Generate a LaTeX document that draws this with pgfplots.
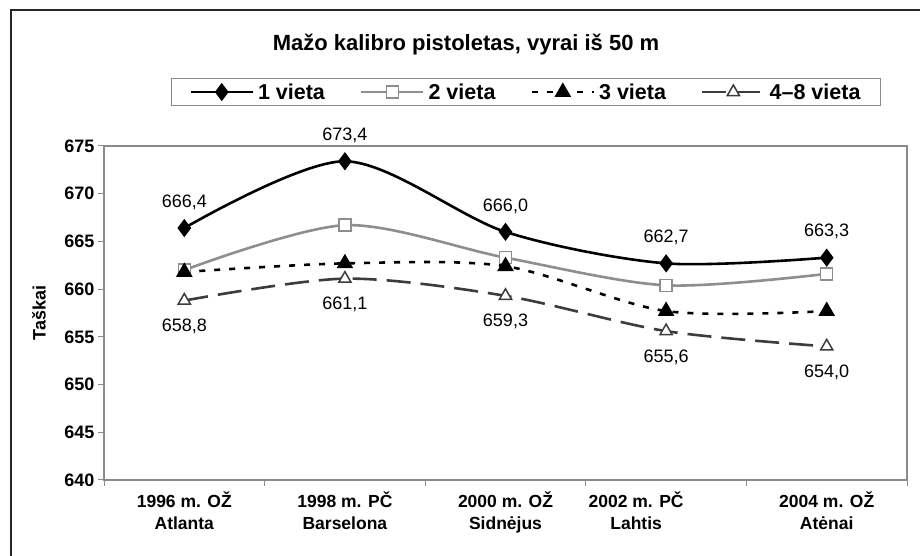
\documentclass[border=0pt]{standalone}
\usepackage{pgfplots}
\pgfplotsset{compat=1.18}
\usepackage{fontspec}
\setmainfont{Liberation Sans}
\definecolor{sgray}{HTML}{8E8E8E}
\definecolor{dgray}{HTML}{3C3C3C}
\definecolor{axgray}{HTML}{8A8A8A}

\begin{document}
\begin{tikzpicture}[x=1pt,y=1pt]
\useasboundingbox (0,0) rectangle (920,556);
\draw[line width=1.8pt, black!85] (11,0) -- (11,546) -- (920,546);
\node[anchor=base, font=\bfseries\fontsize{22}{26}\selectfont] at (466,505) {Mažo kalibro pistoletas, vyrai iš 50 m};
\begin{axis}[
    at={(104pt,76pt)}, anchor=south west,
    scale only axis, width=803pt, height=334pt,
    xmin=0.5, xmax=5.5,
    ymin=640, ymax=675,
    ytick={640,645,...,675},
    xtick={1,...,5},
    xticklabels={{1996 m. OŽ\\Atlanta},{1998 m. PČ\\Barselona},{2000 m. OŽ\\Sidnėjus},{\hspace*{-60pt}2002 m. PČ\\\hspace*{-60pt}Lahtis},{2004 m. OŽ\\Atėnai}},
    minor xtick={0.5,1.5,...,5.5},
    major x tick style={draw=none},
    tick pos=left, tick align=outside,
    major tick length=6pt, minor tick length=6pt,
    axis line style={axgray, line width=1.2pt},
    every tick/.style={axgray, line width=1pt},
    x tick label style={font=\bfseries\fontsize{17.5}{22}\selectfont, align=center, yshift=-2pt},
    y tick label style={font=\bfseries\fontsize{18}{22}\selectfont},
    /pgf/number format/assume math mode=true,
    ylabel={Taškai},
    every axis y label/.style={at={(axis description cs:-0.081,0.5)}, rotate=90, anchor=center,
        font=\bfseries\fontsize{18}{22}\selectfont},
    legend columns=4,
    legend style={at={(0.5255,1.2036)}, anchor=north, draw=axgray, line width=1pt,
        font=\bfseries\fontsize{21.5}{24}\selectfont,
        /tikz/every odd column/.append style={column sep=2pt},
        /tikz/every even column/.append style={column sep=33pt},
        inner xsep=18pt, inner ysep=3pt},
    legend image code/.code={\draw[mark repeat=2, mark phase=2, #1] plot coordinates {(0pt,0pt) (31pt,0pt) (62pt,0pt)};},
    nodes near coords={\pgfmathprintnumber[fixed, fixed zerofill, precision=1, use comma, assume math mode=true]{\pgfplotspointmeta}},
    every node near coord/.append style={font=\fontsize{18}{20}\selectfont, anchor=center, black},
]
\addplot[black, line width=2.6pt, smooth, tension=0.5, mark=diamond*, mark size=7pt, mark options={solid, fill=black},
    every node near coord/.append style={yshift=26pt}]
    coordinates {(1,666.4) (2,673.4) (3,666.0) (4,662.7) (5,663.3)};
\addlegendentry{1 vieta}
\addplot[sgray, line width=2.6pt, smooth, tension=0.5, mark=square*, mark size=6pt, mark options={solid, fill=white, draw=sgray, line width=1.5pt},
    nodes near coords={}]
    coordinates {(1,662.0) (2,666.7) (3,663.3) (4,660.4) (5,661.6)};
\addlegendentry{2 vieta}
\addplot[black, line width=2.6pt, smooth, tension=0.5, dash pattern=on 6pt off 9pt, mark=triangle*, mark size=7pt, mark options={solid, fill=black},
    nodes near coords={}]
    coordinates {(1,661.8) (2,662.7) (3,662.4) (4,657.7) (5,657.7)};
\addlegendentry{3 vieta}
\addplot[dgray, line width=2.6pt, smooth, tension=0.5, dash pattern=on 24pt off 10pt, mark=triangle*, mark size=7pt, mark options={solid, fill=white, draw=dgray, line width=1.5pt},
    every node near coord/.append style={yshift=-26pt}]
    coordinates {(1,658.8) (2,661.1) (3,659.3) (4,655.6) (5,654.0)};
\addlegendentry{4--8 vieta}
\end{axis}
\end{tikzpicture}
\end{document}
